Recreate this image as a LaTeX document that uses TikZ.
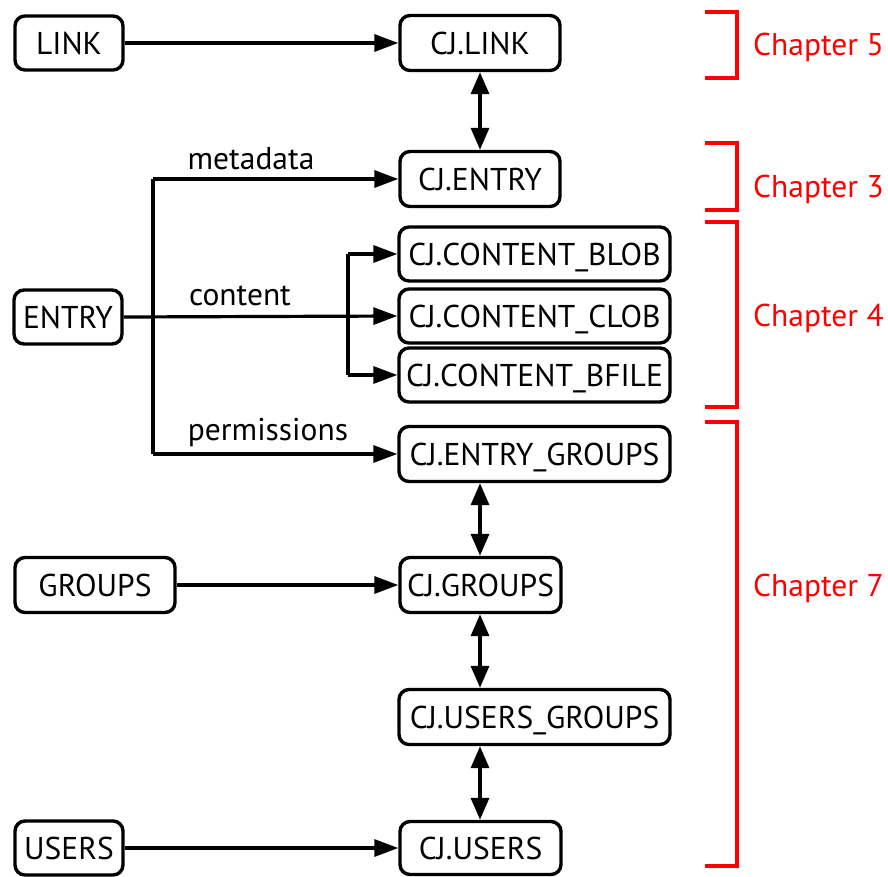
\documentclass[tikz,border=0pt]{standalone}
\usepackage{fontspec}
\setmainfont{PT Sans}
\usetikzlibrary{arrows.meta}
\begin{document}
\begin{tikzpicture}[x=1pt,y=-1pt,
  tbl/.style={draw,line width=3.4pt,rounded corners=10pt,inner sep=0pt,
    font=\fontsize{31.5}{33}\selectfont,anchor=center,
    text height=22pt,text depth=0pt},
  small/.style={tbl,minimum width=108pt,minimum height=54pt},
  mid/.style={tbl,minimum width=160pt,minimum height=55pt},
  wide/.style={tbl,minimum width=271pt,minimum height=54pt},
  link/.style={line width=3.2pt,-{Triangle[length=24pt,width=17pt]}},
  both/.style={line width=3.4pt,{Triangle[length=22pt,width=18pt]}-{Triangle[length=22pt,width=18pt]}},
  lbl/.style={font=\fontsize{31.5}{33}\selectfont,inner sep=0pt},
  chap/.style={text=red,font=\fontsize{31.5}{33}\selectfont,anchor=west,inner sep=0pt,
    text height=22pt,text depth=0pt},
  brk/.style={draw=red,line width=3.6pt}]
\useasboundingbox (0,0) rectangle (888,876);

% source tables
\node[small] (link) at (69,43) {LINK};
\node[small] (entry) at (68,317) {ENTRY};
\node[mid] (groups) at (95,585) {GROUPS};
\node[small] (users) at (69,848) {USERS};

% CJ tables
\node[mid] (cjlink) at (480,43) {CJ.LINK};
\node[mid] (cjentry) at (480,179) {CJ.ENTRY};
\node[wide] (blob) at (534.5,254) {CJ.CONTENT\_BLOB};
\node[wide] (clob) at (534.5,316) {CJ.CONTENT\_CLOB};
\node[wide] (bfile) at (534.5,375) {CJ.CONTENT\_BFILE};
\node[wide,minimum height=55pt] (egroups) at (534.5,454) {CJ.ENTRY\_GROUPS};
\node[mid,minimum width=161pt] (cjgroups) at (480.5,585) {CJ.GROUPS};
\node[wide,minimum height=55pt] (ugroups) at (534.5,717) {CJ.USERS\_GROUPS};
\node[mid,minimum width=161pt,minimum height=53pt] (cjusers) at (480.5,848) {CJ.USERS};

% direct mappings
\draw[link] (link) -- (cjlink);
\draw[link] (groups) -- (cjgroups);
\draw[link] (users) -- (cjusers);

% ENTRY split
\coordinate (ttop) at (153,179);
\coordinate (tbot) at (153,454);
\coordinate (ctop) at (348,254);
\coordinate (cbot) at (348,375);
\draw[line width=3.2pt] (ttop) -- (tbot);
\draw[link] (ttop) -- (cjentry.west);
\draw[link] (tbot) -- (egroups.west);
\draw[link] (entry.east) -- (clob.west);
\draw[line width=3.2pt] (ctop) -- (cbot);
\draw[link] (ctop) -- (blob.west);
\draw[link] (cbot) -- (bfile.west);

\node[lbl] (lmeta) at (251,159) {metadata};
\node[lbl] (lcont) at (240,296) {content};
\node[lbl] (lperm) at (268,432) {permissions};

% relations between CJ tables
\draw[both] (cjlink.south -| 480,0) -- (cjentry.north -| 480,0);
\draw[both] (egroups.south -| 480,0) -- (cjgroups.north -| 480,0);
\draw[both] (cjgroups.south -| 480,0) -- (ugroups.north -| 480,0);
\draw[both] (ugroups.south -| 480,0) -- (cjusers.north -| 480,0);

% chapter brackets
\draw[brk] (705,12) -| (737,78) -- (705,78);
\draw[brk] (705,143) -| (737,210) -- (705,210);
\draw[brk] (705,222) -| (737,407) -- (705,407);
\draw[brk] (705,422) -| (737,866) -- (705,866);
\node[chap] (c5) at (753,44) {Chapter 5};
\node[chap] (c3) at (753,186) {Chapter 3};
\node[chap] (c4) at (753,315) {Chapter 4};
\node[chap] (c7) at (753,585) {Chapter 7};
\end{tikzpicture}
\end{document}
